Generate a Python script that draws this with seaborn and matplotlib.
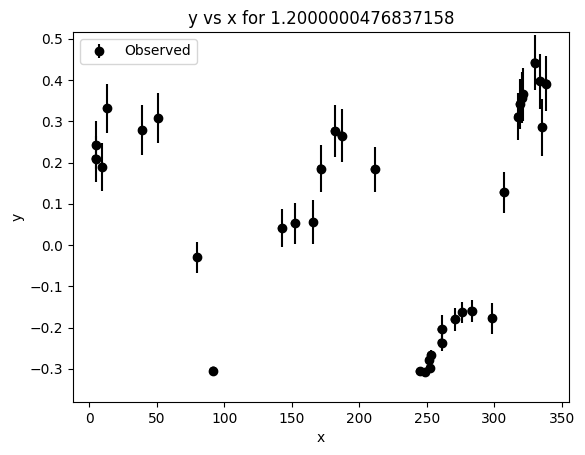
import numpy as np
import pandas as pd
import matplotlib
matplotlib.use("Agg")
import matplotlib.pyplot as plt
import seaborn as sns

# Du lieu doc tu hinh
x_vals = [4.7, 5.0, 9.6, 13.1, 39.2, 51.1, 79.9, 91.8,
          142.6, 152.2, 165.8, 171.5, 181.8, 186.8, 211.4,
          244.7, 248.4, 252.1, 251.8, 253.0, 260.8, 260.8,
          270.6, 276.3, 283.0, 298.2, 306.9,
          317.5, 318.8, 320.2, 321.2, 329.8, 333.5, 335.2, 338.5]
y_vals = [0.210, 0.243, 0.190, 0.332, 0.279, 0.308, -0.029, -0.304,
          0.041, 0.053, 0.056, 0.186, 0.277, 0.266, 0.184,
          -0.306, -0.308, -0.298, -0.278, -0.266, -0.236, -0.204,
          -0.180, -0.163, -0.159, -0.177, 0.128,
          0.312, 0.342, 0.358, 0.366, 0.443, 0.397, 0.286, 0.392]
y_err = [0.056, 0.059, 0.058, 0.060, 0.060, 0.060, 0.038, 0.005,
         0.046, 0.049, 0.053, 0.056, 0.064, 0.065, 0.055,
         0.006, 0.006, 0.008, 0.012, 0.012, 0.020, 0.036,
         0.027, 0.026, 0.026, 0.037, 0.050,
         0.058, 0.060, 0.062, 0.064, 0.067, 0.066, 0.069, 0.066]

df = pd.DataFrame({"x": x_vals, "y": y_vals, "yerr": y_err})

fig = plt.figure(figsize=(5.85, 4.55), dpi=100)
ax = fig.add_axes([0.1248, 0.1165, 0.8479, 0.8132])

ax.errorbar(df["x"], df["y"], yerr=df["yerr"], fmt="o", color="black",
            label="Observed")
sns.scatterplot(x="x", y="y", data=df, color="black", s=36,
                edgecolor="none", legend=False, ax=ax)

ax.set_xlim(-12.06, 355.2)
ax.set_ylim(-0.380, 0.517)
ax.set_xlabel("x")
ax.set_ylabel("y")
ax.set_title("y vs x for 1.2000000476837158")
ax.legend(loc="upper left")

fig.savefig("out.png", dpi=100)
